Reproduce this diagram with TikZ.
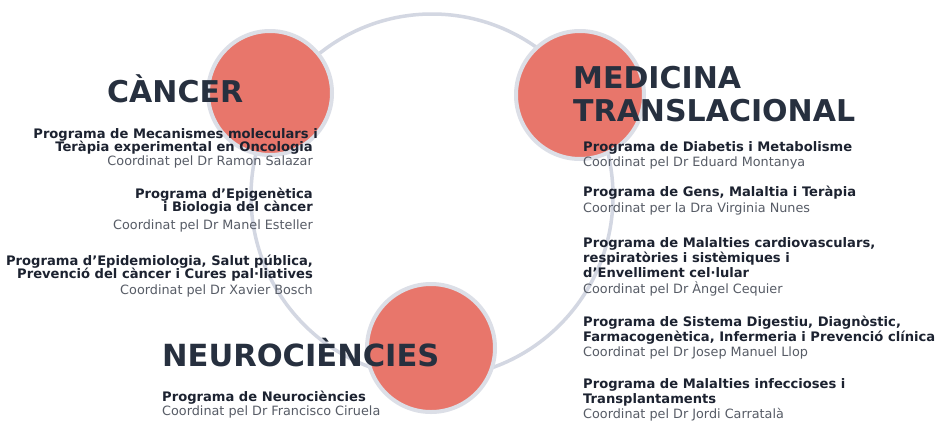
\documentclass[tikz,border=0pt]{standalone}
\usepackage{fontspec}
\setmainfont{DejaVu Sans}
\definecolor{redfill}{HTML}{E8766B}
\definecolor{ringgray}{HTML}{DCDFE7}
\definecolor{linkgray}{HTML}{D3D7E2}
\definecolor{titlecol}{HTML}{27303F}
\definecolor{progcol}{HTML}{1C2230}
\definecolor{coordcol}{HTML}{575C66}
\tikzset{
  hub/.style={circle, fill=redfill, draw=ringgray, line width=4pt, minimum size=#1, inner sep=0pt},
  ttl/.style={font=\fontsize{30}{32}\selectfont\bfseries, text=titlecol, inner sep=0pt},
  prg/.style={font=\fontsize{13.1}{14}\selectfont\bfseries, text=progcol, inner sep=0pt},
  crd/.style={font=\fontsize{12.8}{14}\selectfont, text=coordcol, inner sep=0pt},
  ring/.style={draw=linkgray, line width=3.5pt}
}
\begin{document}
\begin{tikzpicture}[x=1pt,y=-1pt]
\useasboundingbox (0,0) rectangle (938,424);
\fill[white] (0,0) rectangle (938,424);
% connecting ring
\coordinate (ringc) at (432,196);
\draw[ring] (ringc) ellipse [x radius=181pt, y radius=182pt];
% hubs
\node[hub=124pt] (hcan) at (270,93) {};
\node[hub=128pt] (hmed) at (580,95) {};
\node[hub=128pt] (hneu) at (431,348) {};
% titles
\node[ttl, anchor=base west] (tcan) at (107,102) {CÀNCER};
\node[ttl, anchor=base west] (tmed1) at (573,88) {MEDICINA};
\node[ttl, anchor=base west] (tmed2) at (573,121) {TRANSLACIONAL};
\node[ttl, anchor=base west, font=\fontsize{30.5}{32}\selectfont\bfseries] (tneu) at (162,366) {NEUROCIÈNCIES};
% Cancer programmes (right aligned)
\node[prg, anchor=base east] (c1a) at (318,138) {Programa de Mecanismes moleculars i};
\node[prg, anchor=base east] (c1b) at (313,151) {Teràpia experimental en Oncologia};
\node[crd, anchor=base east] (c1c) at (313,165) {Coordinat pel Dr Ramon Salazar};
\node[prg, anchor=base east] (c2a) at (313,198) {Programa d'Epigenètica};
\node[prg, anchor=base east] (c2b) at (313,211) {i Biologia del càncer};
\node[crd, anchor=base east] (c2c) at (313,229) {Coordinat pel Dr Manel Esteller};
\node[prg, anchor=base east] (c3a) at (313,265) {Programa d'Epidemiologia, Salut pública,};
\node[prg, anchor=base east] (c3b) at (313,278) {Prevenció del càncer i Cures pal·liatives};
\node[crd, anchor=base east] (c3c) at (313,294) {Coordinat pel Dr Xavier Bosch};
% Medicina translacional programmes
\node[prg, anchor=base west] (m1a) at (583,151) {Programa de Diabetis i Metabolisme};
\node[crd, anchor=base west] (m1b) at (583,166) {Coordinat pel Dr Eduard Montanya};
\node[prg, anchor=base west] (m2a) at (583,196) {Programa de Gens, Malaltia i Teràpia};
\node[crd, anchor=base west] (m2b) at (583,212) {Coordinat per la Dra Virginia Nunes};
\node[prg, anchor=base west] (m3a) at (583,247) {Programa de Malalties cardiovasculars,};
\node[prg, anchor=base west] (m3b) at (583,262) {respiratòries i sistèmiques i};
\node[prg, anchor=base west] (m3c) at (583,277) {d'Envelliment cel·lular};
\node[crd, anchor=base west] (m3d) at (583,293) {Coordinat pel Dr Àngel Cequier};
\node[prg, anchor=base west] (m4a) at (583,326) {Programa de Sistema Digestiu, Diagnòstic,};
\node[prg, anchor=base west] (m4b) at (583,341) {Farmacogenètica, Infermeria i Prevenció clínica};
\node[crd, anchor=base west] (m4c) at (583,356) {Coordinat pel Dr Josep Manuel Llop};
\node[prg, anchor=base west] (m5a) at (583,388) {Programa de Malalties infeccioses i};
\node[prg, anchor=base west] (m5b) at (583,403) {Transplantaments};
\node[crd, anchor=base west] (m5c) at (583,418) {Coordinat pel Dr Jordi Carratalà};
% Neurociencies programme
\node[prg, anchor=base west] (n1a) at (162,401) {Programa de Neurociències};
\node[crd, anchor=base west] (n1b) at (162,415) {Coordinat pel Dr Francisco Ciruela};
\end{tikzpicture}
\end{document}
